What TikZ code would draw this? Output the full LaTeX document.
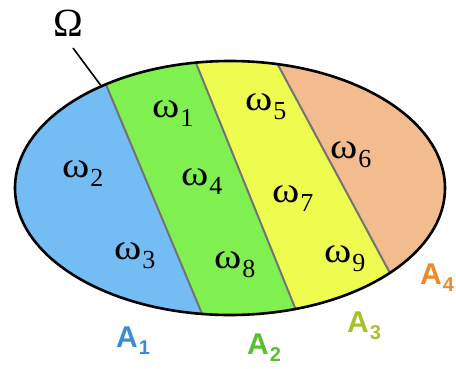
\documentclass[tikz,border=0pt]{standalone}
\usepackage{fontspec}
\setmainfont{Liberation Serif}
\newfontfamily\labfont{Liberation Sans}
\definecolor{cblue}{HTML}{74BCF4}
\definecolor{cgreen}{HTML}{80F050}
\definecolor{cyellow}{HTML}{EEFC50}
\definecolor{corange}{HTML}{F2BC8E}
\definecolor{tblue}{HTML}{3D8CD0}
\definecolor{tgreen}{HTML}{55C030}
\definecolor{tolive}{HTML}{A8C030}
\definecolor{torange}{HTML}{F08828}
\newcommand\wlab[1]{\fontsize{36}{36}\selectfont\scalebox{1.15}[1]{ω}\kern1pt\raisebox{-9pt}{\fontsize{26}{26}\selectfont #1}}
\newcommand\alab[1]{\labfont\bfseries\fontsize{30}{30}\selectfont A\kern1pt\raisebox{-7pt}{\fontsize{20}{20}\selectfont #1}}
\tikzset{
  wnode/.style={anchor=base west,inner sep=0pt},
  anode/.style={anchor=base west,inner sep=0pt},
  divline/.style={draw=gray!90!black,line width=2pt},
}
\begin{document}
\begin{tikzpicture}[x=1pt,y=-1pt]
\useasboundingbox (0,0) rectangle (456,368);
% dividing line end points (outside the ellipse)
\coordinate (l1t) at (78.9,20);  \coordinate (l1b) at (221.4,360);
\coordinate (l2t) at (178.6,20); \coordinate (l2b) at (316.2,360);
\coordinate (l3t) at (253.8,20); \coordinate (l3b) at (436.8,360);
\begin{scope}
  \clip (230,188) ellipse [x radius=215, y radius=127];
  \fill[cblue] (0,20) -- (l1t) -- (l1b) -- (0,360) -- cycle;
  \fill[cgreen] (l1t) -- (l2t) -- (l2b) -- (l1b) -- cycle;
  \fill[cyellow] (l2t) -- (l3t) -- (l3b) -- (l2b) -- cycle;
  \fill[corange] (l3t) -- (456,20) -- (456,360) -- (l3b) -- cycle;
  \draw[divline] (l1t) -- (l1b);
  \draw[divline] (l2t) -- (l2b);
  \draw[divline] (l3t) -- (l3b);
\end{scope}
\draw[line width=2.6pt] (230,188) ellipse [x radius=215, y radius=127];
% Omega label
\node[anchor=base west,inner sep=0pt,font=\fontsize{40}{40}\selectfont] (omega) at (53,36) {Ω};
\coordinate (omegapt) at (102,87);
\draw[line width=1.6pt] (73,48) -- (omegapt);
% omega labels
\node[wnode] (w1) at (152,117) {\wlab{1}};
\node[wnode] (w2) at (62,177) {\wlab{2}};
\node[wnode] (w3) at (114,259) {\wlab{3}};
\node[wnode] (w4) at (181,185) {\wlab{4}};
\node[wnode] (w5) at (245,110) {\wlab{5}};
\node[wnode] (w6) at (330,158) {\wlab{6}};
\node[wnode] (w7) at (272,202) {\wlab{7}};
\node[wnode] (w8) at (214,268) {\wlab{8}};
\node[wnode] (w9) at (324,262) {\wlab{9}};
% A labels
\node[anode,text=tblue] (A1) at (116,347) {\alab{1}};
\node[anode,text=tgreen] (A2) at (247,354) {\alab{2}};
\node[anode,text=tolive] (A3) at (347,332) {\alab{3}};
\node[anode,text=torange] (A4) at (420,284) {\alab{4}};
\end{tikzpicture}
\end{document}
